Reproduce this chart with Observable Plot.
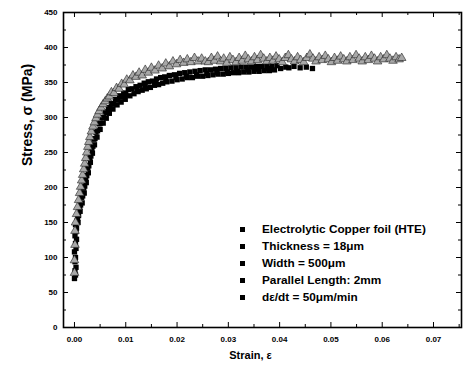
<!DOCTYPE html>
<html><head><meta charset="utf-8">
<script src="https://cdn.jsdelivr.net/npm/d3@7"></script>
<script src="https://cdn.jsdelivr.net/npm/@observablehq/plot@0.6"></script>
<style>
body{margin:0;background:#fff;}
#wrap{position:relative;width:464px;height:374px;font-family:"Liberation Sans",Arial,sans-serif;}
#legend{position:absolute;left:240px;top:221px;font-size:11.8px;font-weight:bold;color:#000;line-height:17px;}
#legend .row{display:flex;align-items:center;white-space:nowrap;height:17px;}
#legend .sq{width:5px;height:5px;background:#000;margin-right:17px;flex:none;}
</style></head><body><div id="wrap"><div id="legend"></div></div>
<script>
// ---- tick values and labels ----
const xMajor = [0, 0.01, 0.02, 0.03, 0.04, 0.05, 0.06, 0.07];
const xMinor = [0.005, 0.015, 0.025, 0.035, 0.045, 0.055, 0.065, 0.075];
const xLabels = ["0.00", "0.01", "0.02", "0.03", "0.04", "0.05", "0.06", "0.07"];
const yMajor = [0, 50, 100, 150, 200, 250, 300, 350, 400, 450];
const yMinor = [25, 75, 125, 175, 225, 275, 325, 375, 425];
const xTitle = "Strain, ε";
const yTitle = "Stress, σ (MPa)";
const legendLines = ["Electrolytic Copper foil (HTE)", "Thickness = 18μm", "Width = 500μm", "Parallel Length: 2mm", "dε/dt = 50μm/min"];

// ---- series 1: black squares ----
const blackStrain = [
0.0000,0.0002,0.0001,0.0003,0.0001,0.0002,0.0000,0.0003,0.0002,0.0004,0.0001,0.0003,0.0004,0.0002,0.0005,
0.0006,0.0008,0.0007,0.0010,0.0012,0.0011,0.0014,0.0016,0.0015,0.0018,0.0020,0.0019,0.0022,0.0024,0.0023,
0.0026,0.0028,0.0027,0.0030,0.0032,0.0031,0.0034,0.0036,0.0035,0.0038,0.0040,0.0039,0.0042,0.0045,0.0044,
0.0048,0.0051,0.0050,0.0054,0.0057,0.0056,0.0060,0.0063,0.0062,0.0066,0.0069,0.0068,0.0072,0.0076,0.0075,
0.0080,0.0084,0.0083,0.0088,0.0092,0.0091,0.0096,0.0100,0.0099,
0.0105,0.0108,0.0112,0.0116,0.0120,0.0124,0.0128,0.0132,0.0136,0.0140,0.0144,0.0148,0.0152,0.0156,0.0160,
0.0164,0.0168,0.0172,0.0176,0.0180,0.0185,0.0190,0.0195,0.0200,0.0205,0.0210,0.0215,0.0220,0.0225,0.0230,
0.0235,0.0240,0.0245,0.0250,0.0255,0.0260,0.0265,0.0270,0.0275,0.0280,0.0285,0.0290,0.0295,0.0300,0.0305,
0.0310,0.0315,0.0320,0.0325,0.0330,0.0335,0.0340,0.0345,0.0350,0.0355,0.0360,0.0365,0.0370,0.0375,0.0380,
0.0385,0.0390,0.0395,0.0402,0.0412,0.0418,0.0428,0.0440,0.0452,0.0464,
0.0122,0.0138,0.0158,0.0178,0.0198,0.0218,0.0238,0.0258,0.0278,0.0298,0.0318,0.0338,0.0358,0.0378];
const blackStress = [
70,75,81,86,94,100,108,113,120,126,131,137,142,147,152,
156,160,150,172,175,166,186,188,178,199,202,192,214,217,207,
228,231,221,242,245,236,256,259,249,269,270,261,279,281,272,
291,292,283,300,300,292,308,307,299,314,313,306,320,319,312,
326,325,318,331,329,322,335,333,326,
340,331,341,334,344,337,346,339,349,341,351,343,352,346,355,
347,357,349,358,351,360,352,361,354,363,355,364,357,365,357,
366,359,367,359,368,360,368,361,369,362,370,362,370,363,371,
364,371,364,372,365,372,365,372,366,373,366,373,367,373,367,
373,368,374,370,372,371,373,371,372,370,
340,344,349,353,357,359,361,363,364,365,366,368,369,370];

// ---- series 2: grey triangles ----
const greyStrain = [
0.0000,0.0000,0.0001,0.0001,0.0002,0.0004,0.0006,0.0008,0.0010,0.0012,0.0014,0.0016,0.0018,0.0020,0.0022,
0.0024,0.0026,0.0028,0.0030,0.0033,0.0036,0.0039,0.0042,0.0045,0.0048,0.0052,0.0056,0.0060,0.0064,0.0068,
0.0072,0.0077,0.0082,0.0087,0.0092,0.0097,0.0102,0.0108,0.0114,0.0120,0.0126,0.0132,0.0138,0.0144,0.0150,
0.0157,0.0164,0.0171,0.0178,0.0185,0.0192,0.0199,0.0206,0.0213,0.0220,0.0227,0.0234,0.0241,0.0248,0.0255,
0.0261,0.0267,0.0273,0.0279,0.0285,0.0291,0.0297,0.0303,0.0309,0.0315,0.0321,0.0327,0.0333,0.0339,0.0345,
0.0351,0.0357,0.0363,0.0369,0.0375,0.0381,0.0387,0.0393,0.0399,0.0405,0.0411,0.0417,0.0423,0.0429,0.0435,
0.0441,0.0447,0.0453,0.0459,0.0465,0.0471,0.0477,0.0483,0.0489,0.0495,0.0501,0.0507,0.0513,0.0519,0.0525,
0.0531,0.0537,0.0543,0.0549,0.0555,0.0561,0.0567,0.0573,0.0579,0.0585,0.0591,0.0597,0.0603,0.0609,0.0615,
0.0621,0.0627,0.0633,0.0638];
const greyStress = [
78,96,118,138,150,162,172,182,192,201,210,218,226,234,242,
250,258,265,272,280,287,293,299,304,309,314,319,323,327,330,
336,335,342,341,348,347,354,353,360,358,364,360,368,364,371,
367,374,370,377,373,380,376,382,378,383,379,385,380,384,380,
379,385,381,387,380,384,378,386,382,379,385,381,388,383,380,
386,382,389,384,380,385,381,387,383,379,385,389,383,380,386,
382,379,385,390,384,380,386,382,388,383,379,385,381,387,383,
380,386,382,389,384,380,386,382,388,384,380,386,383,389,384,
381,386,383,385];

const black = blackStrain.map((s, i) => ({strain: s, stress: blackStress[i]}));
const grey = greyStrain.map((s, i) => ({strain: s, stress: greyStress[i]}));

const W = 464, H = 374, mL = 63, mR = 3, mT = 12, mB = 47;
const fw = W - mL - mR, fh = H - mT - mB;
const font = '"Liberation Sans", Arial, sans-serif';

const chart = Plot.plot({
  width: W, height: H,
  marginLeft: mL, marginRight: mR, marginTop: mT, marginBottom: mB,
  style: {fontFamily: font, fontSize: "8px", fontWeight: "bold", background: "#fff", color: "#000"},
  x: {domain: [-0.00214, 0.07546]},
  y: {domain: [0, 450]},
  marks: [
    Plot.tickX(xMinor, {x: d => d, insetTop: fh - 3, stroke: "#000"}),
    Plot.tickX(xMajor, {x: d => d, insetTop: fh - 5, stroke: "#000"}),
    Plot.tickX(xMinor, {x: d => d, insetBottom: fh - 3, stroke: "#000"}),
    Plot.tickX(xMajor, {x: d => d, insetBottom: fh - 5, stroke: "#000"}),
    Plot.tickY(yMinor, {y: d => d, insetRight: fw - 3, stroke: "#000"}),
    Plot.tickY(yMajor, {y: d => d, insetRight: fw - 5, stroke: "#000"}),
    Plot.tickY(yMinor, {y: d => d, insetLeft: fw - 3, stroke: "#000"}),
    Plot.tickY(yMajor, {y: d => d, insetLeft: fw - 5, stroke: "#000"}),
    Plot.axisX({ticks: xMajor, tickSize: 0, tickPadding: 9, tickFormat: (d, i) => xLabels[i], label: null}),
    Plot.axisY({ticks: yMajor, tickSize: 0, tickPadding: 6, label: null}),
    Plot.dot(black, {x: "strain", y: "stress", symbol: "square", r: 3, fill: "#000"}),
    Plot.dot(grey, {x: "strain", y: "stress", symbol: "triangle", r: 3.2, fill: "#a8a8a8", stroke: "#222", strokeWidth: 0.6}),
    Plot.frame({stroke: "#000", strokeWidth: 1.6}),
    Plot.text([xTitle], {frameAnchor: "bottom", dy: 31, dx: -12, fontSize: 11, fontWeight: "bold"}),
    Plot.text([yTitle], {frameAnchor: "left", rotate: -90, dx: -36, dy: -4, fontSize: 14, fontWeight: "bold"})
  ]
});
const wrap = document.getElementById("wrap");
wrap.insertBefore(chart, wrap.firstChild);
const leg = document.getElementById("legend");
legendLines.forEach(t => {
  const row = document.createElement("div");
  row.className = "row";
  const sq = document.createElement("span");
  sq.className = "sq";
  const tx = document.createElement("span");
  tx.textContent = t;
  row.appendChild(sq); row.appendChild(tx);
  leg.appendChild(row);
});
</script>
</body></html>
